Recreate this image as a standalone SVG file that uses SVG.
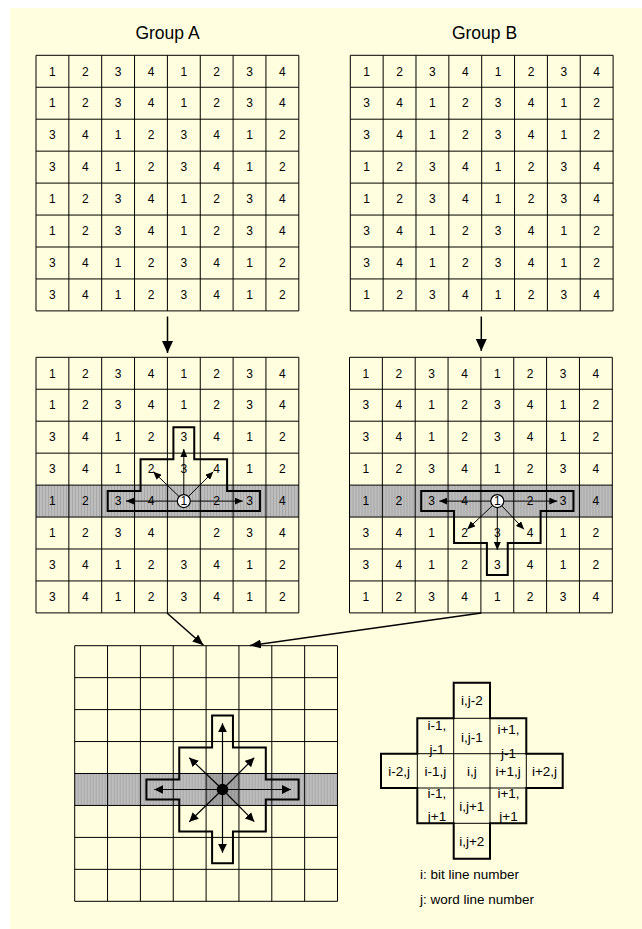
<svg xmlns="http://www.w3.org/2000/svg" width="642" height="929" viewBox="0 0 642 929">
<style>
.n{font-family:"Liberation Sans",Arial,sans-serif;font-size:12px;text-anchor:middle;fill:#000}
.t{font-family:"Liberation Sans",Arial,sans-serif;font-size:17.5px;text-anchor:middle;fill:#000}
.s{font-family:"Liberation Sans",Arial,sans-serif;font-size:13.5px;text-anchor:middle;fill:#000}
.l{font-family:"Liberation Sans",Arial,sans-serif;font-size:13.5px;fill:#000}
.grid{fill:none;stroke:#000;stroke-width:1}
.cross{fill:none;stroke:#000;stroke-width:2}
.ar{stroke:#000;stroke-width:1;fill:none;marker-end:url(#ms)}
.ab{stroke:#000;stroke-width:1.2;fill:none;marker-end:url(#mm)}
.con{stroke:#000;stroke-width:1.5;fill:none}
.thin{fill:none;stroke:#000;stroke-width:1}
.thick{fill:none;stroke:#000;stroke-width:2}
</style>
<defs>
<pattern id="stripe" width="3" height="8" patternUnits="userSpaceOnUse"><rect width="3" height="8" fill="#BDBDBD"/><rect width="1" height="8" fill="#A8A8A8"/></pattern>
<path id="g8" d="M0,0H262.8V255.6H0Z M32.85,0V255.6 M65.7,0V255.6 M98.55,0V255.6 M131.4,0V255.6 M164.25,0V255.6 M197.1,0V255.6 M229.95,0V255.6 M0,31.95H262.8 M0,63.9H262.8 M0,95.85H262.8 M0,127.8H262.8 M0,159.75H262.8 M0,191.7H262.8 M0,223.65H262.8"/>
<marker id="ms" markerUnits="userSpaceOnUse" markerWidth="8" markerHeight="7" refX="8" refY="3.5" orient="auto"><path d="M0,0L8,3.5L0,7z" fill="#000"/></marker>
<marker id="mm" markerUnits="userSpaceOnUse" markerWidth="9" markerHeight="9" refX="9" refY="4.5" orient="auto"><path d="M0,0L9,4.5L0,9z" fill="#000"/></marker>
<marker id="mb" markerUnits="userSpaceOnUse" markerWidth="12" markerHeight="11" refX="12" refY="5.5" orient="auto"><path d="M0,0L12,5.5L0,11z" fill="#000"/></marker>
<marker id="md" markerUnits="userSpaceOnUse" markerWidth="11" markerHeight="9" refX="11" refY="4.5" orient="auto"><path d="M0,0L11,4.5L0,9z" fill="#000"/></marker>
</defs>
<rect x="10" y="8" width="632" height="921" fill="#FFFFE0"/>

<g id="label-a"><text class="t" x="167.5" y="39.3">Group A</text></g>
<g id="label-b"><text class="t" x="484.5" y="39.3">Group B</text></g>

<g id="grid-a-top" transform="translate(36,55.3)">
<use href="#g8" class="grid"/>
<text class="n" x="16.4" y="20.3">1</text><text class="n" x="49.3" y="20.3">2</text><text class="n" x="82.1" y="20.3">3</text><text class="n" x="115" y="20.3">4</text><text class="n" x="147.8" y="20.3">1</text><text class="n" x="180.7" y="20.3">2</text><text class="n" x="213.5" y="20.3">3</text><text class="n" x="246.4" y="20.3">4</text>
<text class="n" x="16.4" y="52.2">1</text><text class="n" x="49.3" y="52.2">2</text><text class="n" x="82.1" y="52.2">3</text><text class="n" x="115" y="52.2">4</text><text class="n" x="147.8" y="52.2">1</text><text class="n" x="180.7" y="52.2">2</text><text class="n" x="213.5" y="52.2">3</text><text class="n" x="246.4" y="52.2">4</text>
<text class="n" x="16.4" y="84.2">3</text><text class="n" x="49.3" y="84.2">4</text><text class="n" x="82.1" y="84.2">1</text><text class="n" x="115" y="84.2">2</text><text class="n" x="147.8" y="84.2">3</text><text class="n" x="180.7" y="84.2">4</text><text class="n" x="213.5" y="84.2">1</text><text class="n" x="246.4" y="84.2">2</text>
<text class="n" x="16.4" y="116.1">3</text><text class="n" x="49.3" y="116.1">4</text><text class="n" x="82.1" y="116.1">1</text><text class="n" x="115" y="116.1">2</text><text class="n" x="147.8" y="116.1">3</text><text class="n" x="180.7" y="116.1">4</text><text class="n" x="213.5" y="116.1">1</text><text class="n" x="246.4" y="116.1">2</text>
<text class="n" x="16.4" y="148.1">1</text><text class="n" x="49.3" y="148.1">2</text><text class="n" x="82.1" y="148.1">3</text><text class="n" x="115" y="148.1">4</text><text class="n" x="147.8" y="148.1">1</text><text class="n" x="180.7" y="148.1">2</text><text class="n" x="213.5" y="148.1">3</text><text class="n" x="246.4" y="148.1">4</text>
<text class="n" x="16.4" y="180">1</text><text class="n" x="49.3" y="180">2</text><text class="n" x="82.1" y="180">3</text><text class="n" x="115" y="180">4</text><text class="n" x="147.8" y="180">1</text><text class="n" x="180.7" y="180">2</text><text class="n" x="213.5" y="180">3</text><text class="n" x="246.4" y="180">4</text>
<text class="n" x="16.4" y="212">3</text><text class="n" x="49.3" y="212">4</text><text class="n" x="82.1" y="212">1</text><text class="n" x="115" y="212">2</text><text class="n" x="147.8" y="212">3</text><text class="n" x="180.7" y="212">4</text><text class="n" x="213.5" y="212">1</text><text class="n" x="246.4" y="212">2</text>
<text class="n" x="16.4" y="243.9">3</text><text class="n" x="49.3" y="243.9">4</text><text class="n" x="82.1" y="243.9">1</text><text class="n" x="115" y="243.9">2</text><text class="n" x="147.8" y="243.9">3</text><text class="n" x="180.7" y="243.9">4</text><text class="n" x="213.5" y="243.9">1</text><text class="n" x="246.4" y="243.9">2</text>
</g>

<g id="grid-b-top" transform="translate(350.3,55.3)">
<use href="#g8" class="grid"/>
<text class="n" x="16.4" y="20.3">1</text><text class="n" x="49.3" y="20.3">2</text><text class="n" x="82.1" y="20.3">3</text><text class="n" x="115" y="20.3">4</text><text class="n" x="147.8" y="20.3">1</text><text class="n" x="180.7" y="20.3">2</text><text class="n" x="213.5" y="20.3">3</text><text class="n" x="246.4" y="20.3">4</text>
<text class="n" x="16.4" y="52.2">3</text><text class="n" x="49.3" y="52.2">4</text><text class="n" x="82.1" y="52.2">1</text><text class="n" x="115" y="52.2">2</text><text class="n" x="147.8" y="52.2">3</text><text class="n" x="180.7" y="52.2">4</text><text class="n" x="213.5" y="52.2">1</text><text class="n" x="246.4" y="52.2">2</text>
<text class="n" x="16.4" y="84.2">3</text><text class="n" x="49.3" y="84.2">4</text><text class="n" x="82.1" y="84.2">1</text><text class="n" x="115" y="84.2">2</text><text class="n" x="147.8" y="84.2">3</text><text class="n" x="180.7" y="84.2">4</text><text class="n" x="213.5" y="84.2">1</text><text class="n" x="246.4" y="84.2">2</text>
<text class="n" x="16.4" y="116.1">1</text><text class="n" x="49.3" y="116.1">2</text><text class="n" x="82.1" y="116.1">3</text><text class="n" x="115" y="116.1">4</text><text class="n" x="147.8" y="116.1">1</text><text class="n" x="180.7" y="116.1">2</text><text class="n" x="213.5" y="116.1">3</text><text class="n" x="246.4" y="116.1">4</text>
<text class="n" x="16.4" y="148.1">1</text><text class="n" x="49.3" y="148.1">2</text><text class="n" x="82.1" y="148.1">3</text><text class="n" x="115" y="148.1">4</text><text class="n" x="147.8" y="148.1">1</text><text class="n" x="180.7" y="148.1">2</text><text class="n" x="213.5" y="148.1">3</text><text class="n" x="246.4" y="148.1">4</text>
<text class="n" x="16.4" y="180">3</text><text class="n" x="49.3" y="180">4</text><text class="n" x="82.1" y="180">1</text><text class="n" x="115" y="180">2</text><text class="n" x="147.8" y="180">3</text><text class="n" x="180.7" y="180">4</text><text class="n" x="213.5" y="180">1</text><text class="n" x="246.4" y="180">2</text>
<text class="n" x="16.4" y="212">3</text><text class="n" x="49.3" y="212">4</text><text class="n" x="82.1" y="212">1</text><text class="n" x="115" y="212">2</text><text class="n" x="147.8" y="212">3</text><text class="n" x="180.7" y="212">4</text><text class="n" x="213.5" y="212">1</text><text class="n" x="246.4" y="212">2</text>
<text class="n" x="16.4" y="243.9">1</text><text class="n" x="49.3" y="243.9">2</text><text class="n" x="82.1" y="243.9">3</text><text class="n" x="115" y="243.9">4</text><text class="n" x="147.8" y="243.9">1</text><text class="n" x="180.7" y="243.9">2</text><text class="n" x="213.5" y="243.9">3</text><text class="n" x="246.4" y="243.9">4</text>
</g>

<g id="grid-a-mid" transform="translate(36,357.3)">
<rect x="0" y="127.8" width="262.8" height="31.95" fill="url(#stripe)"/>
<use href="#g8" class="grid"/>
<text class="n" x="16.4" y="20.3">1</text><text class="n" x="49.3" y="20.3">2</text><text class="n" x="82.1" y="20.3">3</text><text class="n" x="115" y="20.3">4</text><text class="n" x="147.8" y="20.3">1</text><text class="n" x="180.7" y="20.3">2</text><text class="n" x="213.5" y="20.3">3</text><text class="n" x="246.4" y="20.3">4</text>
<text class="n" x="16.4" y="52.2">1</text><text class="n" x="49.3" y="52.2">2</text><text class="n" x="82.1" y="52.2">3</text><text class="n" x="115" y="52.2">4</text><text class="n" x="147.8" y="52.2">1</text><text class="n" x="180.7" y="52.2">2</text><text class="n" x="213.5" y="52.2">3</text><text class="n" x="246.4" y="52.2">4</text>
<text class="n" x="16.4" y="84.2">3</text><text class="n" x="49.3" y="84.2">4</text><text class="n" x="82.1" y="84.2">1</text><text class="n" x="115" y="84.2">2</text><text class="n" x="147.8" y="84.2">3</text><text class="n" x="180.7" y="84.2">4</text><text class="n" x="213.5" y="84.2">1</text><text class="n" x="246.4" y="84.2">2</text>
<text class="n" x="16.4" y="116.1">3</text><text class="n" x="49.3" y="116.1">4</text><text class="n" x="82.1" y="116.1">1</text><text class="n" x="115" y="116.1">2</text><text class="n" x="147.8" y="116.1">3</text><text class="n" x="180.7" y="116.1">4</text><text class="n" x="213.5" y="116.1">1</text><text class="n" x="246.4" y="116.1">2</text>
<text class="n" x="16.4" y="148.1">1</text><text class="n" x="49.3" y="148.1">2</text><text class="n" x="82.1" y="148.1">3</text><text class="n" x="115" y="148.1">4</text><text class="n" x="180.7" y="148.1">2</text><text class="n" x="213.5" y="148.1">3</text><text class="n" x="246.4" y="148.1">4</text>
<text class="n" x="16.4" y="180">1</text><text class="n" x="49.3" y="180">2</text><text class="n" x="82.1" y="180">3</text><text class="n" x="115" y="180">4</text><text class="n" x="180.7" y="180">2</text><text class="n" x="213.5" y="180">3</text><text class="n" x="246.4" y="180">4</text>
<text class="n" x="16.4" y="212">3</text><text class="n" x="49.3" y="212">4</text><text class="n" x="82.1" y="212">1</text><text class="n" x="115" y="212">2</text><text class="n" x="147.8" y="212">3</text><text class="n" x="180.7" y="212">4</text><text class="n" x="213.5" y="212">1</text><text class="n" x="246.4" y="212">2</text>
<text class="n" x="16.4" y="243.9">3</text><text class="n" x="49.3" y="243.9">4</text><text class="n" x="82.1" y="243.9">1</text><text class="n" x="115" y="243.9">2</text><text class="n" x="147.8" y="243.9">3</text><text class="n" x="180.7" y="243.9">4</text><text class="n" x="213.5" y="243.9">1</text><text class="n" x="246.4" y="243.9">2</text>
<polygon class="cross" points="137.4,69.9 158.25,69.9 158.25,101.85 191.1,101.85 191.1,133.8 223.95,133.8 223.95,153.75 71.7,153.75 71.7,133.8 104.55,133.8 104.55,101.85 137.4,101.85"/>
<line class="ar" x1="147.8" y1="143.8" x2="147.8" y2="91.7"/>
<line class="ar" x1="147.8" y1="143.8" x2="117.3" y2="114.4"/>
<line class="ar" x1="147.8" y1="143.8" x2="177.3" y2="114.4"/>
<line class="ar" x1="147.8" y1="143.8" x2="90" y2="143.8"/>
<line class="ar" x1="147.8" y1="143.8" x2="206.7" y2="143.8"/>
<circle cx="147.8" cy="143.8" r="6.5" fill="#fff" stroke="#000" stroke-width="1.2"/>
<text class="n" x="147.8" y="148.1">1</text>
</g>

<g id="grid-b-mid" transform="translate(349.5,357.3)">
<rect x="0" y="127.8" width="262.8" height="31.95" fill="url(#stripe)"/>
<use href="#g8" class="grid"/>
<text class="n" x="16.4" y="20.3">1</text><text class="n" x="49.3" y="20.3">2</text><text class="n" x="82.1" y="20.3">3</text><text class="n" x="115" y="20.3">4</text><text class="n" x="147.8" y="20.3">1</text><text class="n" x="180.7" y="20.3">2</text><text class="n" x="213.5" y="20.3">3</text><text class="n" x="246.4" y="20.3">4</text>
<text class="n" x="16.4" y="52.2">3</text><text class="n" x="49.3" y="52.2">4</text><text class="n" x="82.1" y="52.2">1</text><text class="n" x="115" y="52.2">2</text><text class="n" x="147.8" y="52.2">3</text><text class="n" x="180.7" y="52.2">4</text><text class="n" x="213.5" y="52.2">1</text><text class="n" x="246.4" y="52.2">2</text>
<text class="n" x="16.4" y="84.2">3</text><text class="n" x="49.3" y="84.2">4</text><text class="n" x="82.1" y="84.2">1</text><text class="n" x="115" y="84.2">2</text><text class="n" x="147.8" y="84.2">3</text><text class="n" x="180.7" y="84.2">4</text><text class="n" x="213.5" y="84.2">1</text><text class="n" x="246.4" y="84.2">2</text>
<text class="n" x="16.4" y="116.1">1</text><text class="n" x="49.3" y="116.1">2</text><text class="n" x="82.1" y="116.1">3</text><text class="n" x="115" y="116.1">4</text><text class="n" x="147.8" y="116.1">1</text><text class="n" x="180.7" y="116.1">2</text><text class="n" x="213.5" y="116.1">3</text><text class="n" x="246.4" y="116.1">4</text>
<text class="n" x="16.4" y="148.1">1</text><text class="n" x="49.3" y="148.1">2</text><text class="n" x="82.1" y="148.1">3</text><text class="n" x="115" y="148.1">4</text><text class="n" x="180.7" y="148.1">2</text><text class="n" x="213.5" y="148.1">3</text><text class="n" x="246.4" y="148.1">4</text>
<text class="n" x="16.4" y="180">3</text><text class="n" x="49.3" y="180">4</text><text class="n" x="82.1" y="180">1</text><text class="n" x="115" y="180">2</text><text class="n" x="147.8" y="180">3</text><text class="n" x="180.7" y="180">4</text><text class="n" x="213.5" y="180">1</text><text class="n" x="246.4" y="180">2</text>
<text class="n" x="16.4" y="212">3</text><text class="n" x="49.3" y="212">4</text><text class="n" x="82.1" y="212">1</text><text class="n" x="115" y="212">2</text><text class="n" x="147.8" y="212">3</text><text class="n" x="180.7" y="212">4</text><text class="n" x="213.5" y="212">1</text><text class="n" x="246.4" y="212">2</text>
<text class="n" x="16.4" y="243.9">1</text><text class="n" x="49.3" y="243.9">2</text><text class="n" x="82.1" y="243.9">3</text><text class="n" x="115" y="243.9">4</text><text class="n" x="147.8" y="243.9">1</text><text class="n" x="180.7" y="243.9">2</text><text class="n" x="213.5" y="243.9">3</text><text class="n" x="246.4" y="243.9">4</text>
<polygon class="cross" points="71.7,133.8 223.95,133.8 223.95,153.75 191.1,153.75 191.1,185.7 158.25,185.7 158.25,217.65 137.4,217.65 137.4,185.7 104.55,185.7 104.55,153.75 71.7,153.75"/>
<line class="ar" x1="147.8" y1="143.8" x2="89.8" y2="143.8"/>
<line class="ar" x1="147.8" y1="143.8" x2="207.8" y2="143.8"/>
<line class="ar" x1="147.8" y1="143.8" x2="147.8" y2="192.7"/>
<line class="ar" x1="147.8" y1="143.8" x2="117.8" y2="172"/>
<line class="ar" x1="147.8" y1="143.8" x2="174.5" y2="172"/>
<circle cx="147.8" cy="143.8" r="6.5" fill="#fff" stroke="#000" stroke-width="1.2"/>
<text class="n" x="147.8" y="148.1">1</text>
</g>

<g id="grid-combined" transform="translate(74.7,645.7)">
<rect x="0" y="127.8" width="262.8" height="31.95" fill="url(#stripe)"/>
<rect x="131.4" y="127.8" width="32.85" height="31.95" fill="#000" fill-opacity="0.13"/>
<use href="#g8" class="grid"/>
<polygon class="cross" points="137.4,69.9 158.25,69.9 158.25,101.85 191.1,101.85 191.1,133.8 223.95,133.8 223.95,153.75 191.1,153.75 191.1,185.7 158.25,185.7 158.25,217.65 137.4,217.65 137.4,185.7 104.55,185.7 104.55,153.75 71.7,153.75 71.7,133.8 104.55,133.8 104.55,101.85 137.4,101.85"/>
<line class="ab" x1="147.8" y1="143.8" x2="147.8" y2="77.6"/>
<line class="ab" x1="147.8" y1="143.8" x2="147.8" y2="207"/>
<line class="ab" x1="147.8" y1="143.8" x2="79.6" y2="143.8"/>
<line class="ab" x1="147.8" y1="143.8" x2="216.3" y2="143.8"/>
<line class="ab" x1="147.8" y1="143.8" x2="114.6" y2="112"/>
<line class="ab" x1="147.8" y1="143.8" x2="179.6" y2="112"/>
<line class="ab" x1="147.8" y1="143.8" x2="114.6" y2="176"/>
<line class="ab" x1="147.8" y1="143.8" x2="179.6" y2="176"/>
<circle cx="147.8" cy="143.8" r="5.8" fill="#000"/>
</g>

<g id="neighbor-legend">
<path class="thin" d="M453.7,718.3H490 M417.3,753.7H526.3 M417.3,788H526.3 M453.7,823.3H490 M417.3,753.7V788 M453.7,718.3V823.3 M490,718.3V823.3 M526.3,753.7V788"/>
<polygon class="thick" points="453.7,682.7 490,682.7 490,718.3 526.3,718.3 526.3,753.7 562.7,753.7 562.7,788 526.3,788 526.3,823.3 490,823.3 490,858.7 453.7,858.7 453.7,823.3 417.3,823.3 417.3,788 381,788 381,753.7 417.3,753.7 417.3,718.3 453.7,718.3"/>
<text class="s" x="471.8" y="705.4">i,j-2</text>
<text class="s" x="437" y="729.5">i-1,</text>
<text class="s" x="437" y="754">j-1</text>
<text class="s" x="471.8" y="741.5">i,j-1</text>
<text class="s" x="508.5" y="733.5">i+1,</text>
<text class="s" x="508.5" y="757.5">j-1</text>
<text class="s" x="399.2" y="776">i-2,j</text>
<text class="s" x="435.5" y="776">i-1,j</text>
<text class="s" x="471.8" y="776">i,j</text>
<text class="s" x="508.2" y="776">i+1,j</text>
<text class="s" x="544.5" y="776">i+2,j</text>
<text class="s" x="437" y="798">i-1,</text>
<text class="s" x="437" y="820.7">j+1</text>
<text class="s" x="471.8" y="811.3">i,j+1</text>
<text class="s" x="508.5" y="797.5">i+1,</text>
<text class="s" x="508.5" y="820.7">j+1</text>
<text class="s" x="471.8" y="845.9">i,j+2</text>
<text class="l" x="420" y="879.3">i: bit line number</text>
<text class="l" x="420" y="904">j: word line number</text>
</g>

<g id="connectors">
<line class="con" x1="167.5" y1="316.5" x2="167.5" y2="353" marker-end="url(#mb)"/>
<line class="con" x1="481.3" y1="316.5" x2="481.3" y2="351" marker-end="url(#mb)"/>
<line class="con" x1="167" y1="613" x2="203.5" y2="645.3" marker-end="url(#md)"/>
<line class="con" x1="481.3" y1="613" x2="250" y2="645.5" marker-end="url(#md)"/>
</g>
</svg>
